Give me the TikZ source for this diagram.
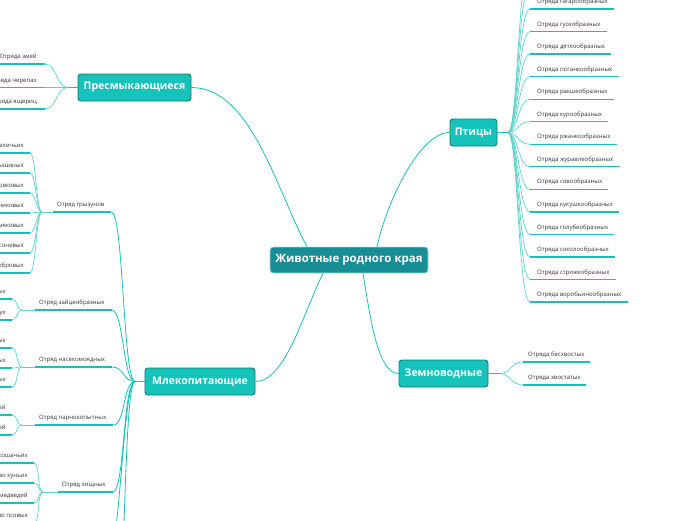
\documentclass[tikz,border=0pt]{standalone}
\usepackage{fontspec}
\setmainfont{Open Sans}
\definecolor{rootfill}{HTML}{178D95}
\definecolor{rootline}{HTML}{9ED8DC}
\definecolor{topicfill}{HTML}{16C3BB}
\definecolor{topicline}{HTML}{0F7A75}
\definecolor{teal1}{HTML}{17C1BA}
\definecolor{twigc}{HTML}{5CD3CC}
\definecolor{leaftext}{HTML}{333333}

\begin{document}
\begin{tikzpicture}[x=1pt, y=-1pt,
  root/.style={draw=rootline, fill=rootfill, line width=0.8pt, rounded corners=3pt, text=white,
    font=\fontsize{11.5}{13}\selectfont\bfseries, minimum height=26pt, inner xsep=2pt},
  topic/.style={draw=topicline, fill=topicfill, line width=0.9pt, rounded corners=3pt, text=white,
    font=\fontsize{10.5}{12}\selectfont\bfseries, minimum height=27pt, inner xsep=2pt},
  leaf/.style={inner sep=0pt, font=\fontsize{6}{7}\selectfont, text=leaftext},
  uline/.style={draw=teal1, line width=1.3pt},
  branch/.style={draw=teal1, line width=0.8pt},
  twig/.style={draw=twigc, line width=0.7pt}]
\useasboundingbox (0,0) rectangle (696,520);

% main topics
\node[root, minimum width=158pt] (animals) at (349,260) {Животные родного края};
\node[topic, minimum width=47pt] (birds) at (473.5,132.5) {Птицы};
\node[topic, minimum width=113pt] (reptiles) at (134.5,87.5) {Пресмыкающиеся};
\node[topic, minimum width=110pt] (mammals) at (200,381.5) {Млекопитающие};
\node[topic, minimum width=89pt] (amphib) at (443.5,373.5) {Земноводные};

\draw[branch] ([xshift=28pt]animals.north) .. controls +(10,-45) and +(-30,0) .. (birds.west);
\draw[branch] ([xshift=-42pt]animals.north) .. controls +(-30,-55) and +(60,0) .. (reptiles.east);
\draw[branch] ([xshift=-26pt]animals.south) .. controls +(-20,40) and +(30,0) .. (mammals.east);
\draw[branch] ([xshift=14pt]animals.south) .. controls +(8,50) and +(-20,0) .. (amphib.west);

\coordinate (bfork) at (508,132.5);
\coordinate (afork) at (500,373.5);
\coordinate (rfork) at (68,87.5);
\coordinate (mfork) at (135,381.5);
\draw[branch] (birds.east) -- (bfork);
\draw[branch] (amphib.east) -- (afork);
\draw[branch] (reptiles.west) -- (rfork);
\draw[branch] (mammals.west) -- (mfork);

% birds
\foreach \name [count=\i] in {аистообразных, пеликанообразных, гагарообразных, гусеобразных,
    дятлообразных, поганкообразных, ракшеобразных, курообразных, ржанкообразных,
    журавлеобразных, совообразных, кукушкообразных, голубеобразных, соколообразных,
    стрижеобразных, воробьинообразных} {
  \node[leaf, anchor=base west] (bird\i) at (537, {9+22.54*(\i-3)-5.4}) {Отряда \name};
  \draw[uline] ([xshift=-7pt,yshift=-5.4pt]bird\i.base west) coordinate (birdl\i)
    -- ([xshift=6pt,yshift=-5.4pt]bird\i.base east);
  \draw[twig] (bfork) .. controls +(10,0) and +(-12,0) .. (birdl\i);
}

% amphibians
\foreach \name [count=\i] in {бесхвостых, хвостатых} {
  \node[leaf, anchor=base west] (amph\i) at (528, {339+23*\i-5.4}) {Отряда \name};
  \draw[uline] ([xshift=-5pt,yshift=-5.4pt]amph\i.base west) coordinate (amphl\i)
    -- ([xshift=5pt,yshift=-5.4pt]amph\i.base east);
  \draw[twig] (afork) .. controls +(10,0) and +(-12,0) .. (amphl\i);
}

% reptiles
\foreach \name/\y [count=\i] in {змей/64, черепах/87.5, ящериц/109} {
  \node[leaf, anchor=base east] (rept\i) at (37, {\y-5.4}) {Отряда \name};
  \draw[uline] ([xshift=-6pt,yshift=-5.4pt]rept\i.base west)
    -- ([xshift=8pt,yshift=-5.4pt]rept\i.base east) coordinate (reptl\i);
  \draw[twig] (reptl\i) .. controls +(12,0) and +(-12,0) .. (rfork);
}

% mammals: orders
\foreach \ord/\x/\y/\fx [count=\i] in {грызунов/57/212/42, зайцеобразных/39/310/22,
    насекомоядных/39/367/22, парнокопытных/39/425/22, хищных/62/492/43,
    рукокрылых/45/560/28, китообразных/45/640/28} {
  \coordinate (ofork\i) at (\fx,\y);
  \node[leaf, anchor=base west] (ord\i) at (\x, {\y-5.4}) {Отряд \ord};
  \draw[uline] ([xshift=-4pt,yshift=-5.4pt]ord\i.base west) coordinate (orda\i)
    -- ([xshift=7pt,yshift=-5.4pt]ord\i.base east) coordinate (ordb\i);
  \draw[twig] (ofork\i) -- (orda\i);
  \draw[branch] (ordb\i) .. controls +(12,0) and +(-12,0) .. (mfork);
}

% mammals: families
\foreach \name/\x/\y/\o in {беличьих/24/153/1, мышиных/24/173/1, мышовковых/24/193/1,
    тушканчиковых/24/213/1, хомяковых/24/233/1, соневых/24/253/1, бобровых/24/273/1,
    зайцевых/6/299/2, пищух/6/320/2,
    ежовых/6/348/3, кротовых/6/368/3, землеройковых/6/387/3,
    оленей/6/415/4, свиней/6/435/4,
    кошачьих/28/463/5, куньих/28/483/5, медведей/28/503/5, псовых/28/523/5} {
  \node[leaf, anchor=base east] (fam-\name) at (\x, {\y-5.4}) {Семейство \name};
  \draw[uline] ([xshift=-6pt,yshift=-5.4pt]fam-\name.base west)
    -- ([xshift=6pt,yshift=-5.4pt]fam-\name.base east) coordinate (faml-\name);
  \draw[twig] (faml-\name) .. controls +(6,0) and +(-6,0) .. (ofork\o);
}
\end{tikzpicture}
\end{document}
